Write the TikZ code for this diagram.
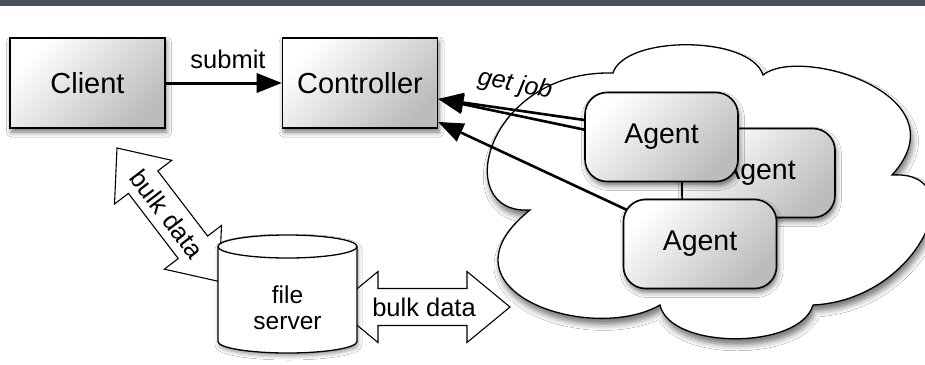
\documentclass[tikz,border=0pt]{standalone}
\usepackage{fontspec}
\setmainfont{Liberation Sans}
\usetikzlibrary{arrows.meta,shadows.blur,calc}
\definecolor{band}{RGB}{74,77,90}
\definecolor{boxgray}{RGB}{188,188,188}
\tikzset{
 shadowed/.style={blur shadow={shadow xshift=1.5pt,shadow yshift=-4pt,shadow blur radius=5pt,shadow opacity=55}},
 boxnode/.style={draw=black,line width=1.6pt,minimum width=155pt,minimum height=90pt,inner sep=0pt,
   top color=white,bottom color=boxgray,shading angle=45,shadowed,font=\fontsize{29}{34}\selectfont},
 agentnode/.style={boxnode,rounded corners=22pt,minimum width=153pt,minimum height=89pt,font=\fontsize{28.5}{34}\selectfont},
 conn/.style={draw=black,line width=3pt,-{Triangle[length=25pt,width=20pt,fill=black,line width=0pt]}},
 jobconn/.style={draw=black,line width=2.6pt,-{Triangle[length=25pt,width=20pt,fill=black,line width=0pt]}},
 fat/.style={draw=black,line width=1.1pt,fill=white},
 lbl/.style={font=\fontsize{25.5}{30}\selectfont,inner sep=0pt},
}
\begin{document}
\begin{tikzpicture}[x=1pt,y=-1pt]
\fill[white] (0,0) rectangle (925,364);
\useasboundingbox (0,0) rectangle (925,364);
\fill[band] (0,0) rectangle (925,6);
% cloud
\path[draw=black,line width=1.3pt,fill=white,blur shadow={shadow xshift=2pt,shadow yshift=-6pt,shadow blur radius=6pt,shadow opacity=55}]
 (530,210) .. controls (450,215) and (485,70) .. (613,73)
 .. controls (625,35) and (750,35) .. (763,75)
 .. controls (800,45) and (965,95) .. (892,175)
 .. controls (975,170) and (920,300) .. (813,305)
 .. controls (800,350) and (670,350) .. (660,305)
 .. controls (590,345) and (430,290) .. cycle;
% client / controller
\node[boxnode] (client) at (87.5,83) {Client};
\node[boxnode] (ctrl) at (360,83) {Controller};
\draw[conn] (client) -- (ctrl);
\node[lbl] (submit) at (228,59) {submit};
% agents
\node[agentnode] (agent2) at (758.5,173) {Agent};
\draw[jobconn] ([yshift=23pt]agent2.west) -- ([yshift=-16pt]ctrl.east);
\node[agentnode] (agent1) at (661.5,137) {Agent};
\draw[jobconn] ([yshift=17pt]agent1.west) -- ([yshift=-16pt]ctrl.east);
\coordinate (a3) at (700,244);
\draw[jobconn] (a3) -- ([yshift=-39pt]ctrl.east);
\node[agentnode] (agent3) at (a3) {Agent};
\node[lbl,font=\fontsize{25}{30}\selectfont\itshape,rotate=-11] (getjob) at (515,85) {get job};
% fat double arrows
\begin{scope}[shift={(117,148)},rotate=-52.6]
 \draw[fat] (0,0) -- (43,36) -- (43,18.5) -- (125,18.5) -- (125,36) -- (168,0)
   -- (125,-36) -- (125,-18.5) -- (43,-18.5) -- (43,-36) -- cycle;
\end{scope}
\begin{scope}[shift={(335,307)}]
 \draw[fat] (0,0) -- (43,35.5) -- (43,18.5) -- (132,18.5) -- (132,35.5) -- (175,0)
   -- (132,-35.5) -- (132,-18.5) -- (43,-18.5) -- (43,-35.5) -- cycle;
\end{scope}
\node[lbl,rotate=-52.6] (bd1) at (167,214) {bulk data};
\node[lbl] (bd2) at (424,307) {bulk data};
% file server cylinder
\path[fill=white,draw=black,line width=1.3pt,blur shadow={shadow xshift=1pt,shadow yshift=-3pt,shadow blur radius=4pt,shadow opacity=40}]
 (218,246.5) -- (218,341.5) arc[start angle=180,end angle=360,x radius=69.5pt,y radius=11.5pt]
 -- (357,246.5) arc[start angle=0,end angle=180,x radius=69.5pt,y radius=11.5pt] -- cycle;
\draw[line width=1.3pt] (218,246.5) arc[start angle=180,end angle=360,x radius=69.5pt,y radius=11.5pt];
\node[lbl,align=center,font=\fontsize{24.5}{26}\selectfont] (fs) at (287.5,308) {file\\server};
\end{tikzpicture}
\end{document}
